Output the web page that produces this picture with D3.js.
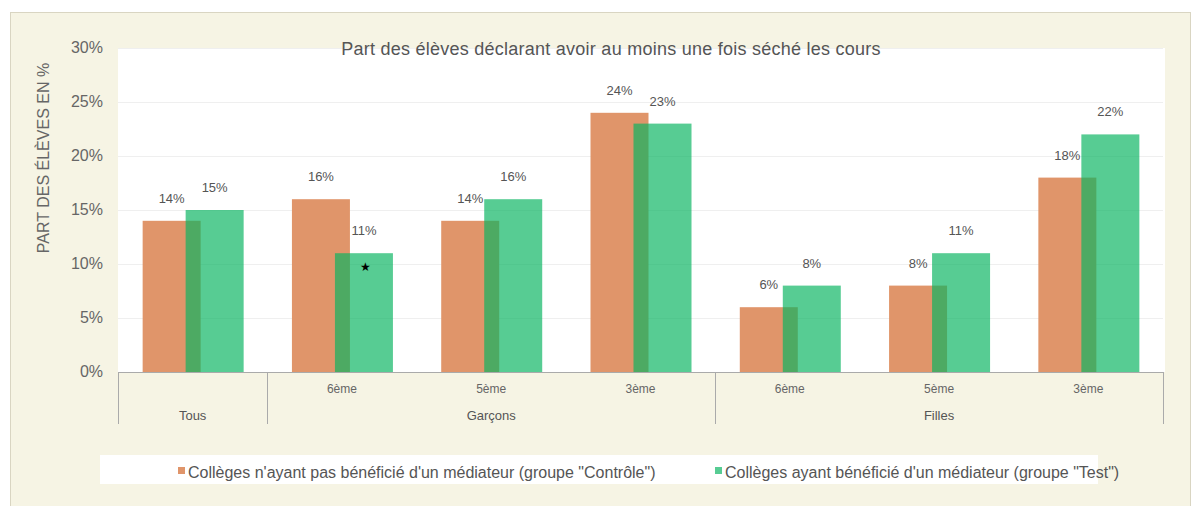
<!DOCTYPE html>
<html>
<head>
<meta charset="utf-8">
<script src="https://cdn.jsdelivr.net/npm/d3@7"></script>
<style>
  body { margin: 0; background: #fff; }
  svg { display: block; font-family: "Liberation Sans", Arial, sans-serif; }
</style>
</head>
<body>
<div id="chart"></div>
<script>
// data
const categories = ["Tous", "G6", "G5", "G3", "F6", "F5", "F3"];
const subLabels = ["", "6ème", "5ème", "3ème", "6ème", "5ème", "3ème"];
const groupOf = ["Tous", "Garçons", "Garçons", "Garçons", "Filles", "Filles", "Filles"];
const groups = ["Tous", "Garçons", "Filles"];
const controle = [14, 16, 14, 24, 6, 8, 18];
const testGroup = [15, 11, 16, 23, 8, 11, 22];
const significant = [false, true, false, false, false, false, false];
const yTicks = [0, 5, 10, 15, 20, 25, 30];
const seriesNames = [
  "Collèges n'ayant pas bénéficié d'un médiateur (groupe \"Contrôle\")",
  "Collèges ayant bénéficié d'un médiateur (groupe \"Test\")"
];

const W = 1199, H = 506;
const MARGIN = { TOP: 48, BOTTOM: 134, LEFT: 118, RIGHT: 36 };
const PW = W - MARGIN.LEFT - MARGIN.RIGHT;
const PH = H - MARGIN.TOP - MARGIN.BOTTOM;

const ORANGE = "#e0956a";
const GREEN = "rgb(8,180,96)";

const svg = d3.select("#chart").append("svg")
  .attr("width", W).attr("height", H);

// outer panel
svg.append("rect")
  .attr("x", 10.5).attr("y", 12.5)
  .attr("width", 1180).attr("height", 500)
  .attr("fill", "#f6f4e4").attr("stroke", "#d9d5c2");

const g = svg.append("g")
  .attr("transform", "translate(" + MARGIN.LEFT + "," + MARGIN.TOP + ")");

// plot background
g.append("rect").attr("width", PW + 2).attr("height", PH).attr("fill", "#fff");

const y = d3.scaleLinear().domain([0, 30]).range([PH, 0]);
const x = d3.scaleBand().domain(categories).range([0, PW]).padding(0);
const bw = 58;
const offset = d3.scaleOrdinal().domain(["controle", "test"]).range([-50, -7]);

// grid
g.selectAll(".grid").data(yTicks.slice(1)).enter().append("line")
  .attr("x1", 0).attr("x2", PW)
  .attr("y1", d => y(d) + 0.5).attr("y2", d => y(d) + 0.5)
  .attr("stroke", "#efefef");

// y axis labels
g.selectAll(".ytick").data(yTicks).enter().append("text")
  .attr("x", -15).attr("y", d => y(d) + 5)
  .attr("text-anchor", "end")
  .attr("font-size", 16).attr("fill", "#666")
  .text(d => d + "%");

// y title
svg.append("text")
  .attr("transform", "translate(49,158) rotate(-90)")
  .attr("text-anchor", "middle")
  .attr("font-size", 16).attr("fill", "#666")
  .text("PART DES ÉLÈVES EN %");

// chart title
svg.append("text")
  .attr("x", 611).attr("y", 55)
  .attr("text-anchor", "middle")
  .attr("font-size", 18).attr("letter-spacing", 0.25).attr("fill", "#555")
  .text("Part des élèves déclarant avoir au moins une fois séché les cours");

// bars
const cx = i => x(categories[i]) + x.bandwidth() / 2;

g.selectAll(".bar-c").data(controle).enter().append("rect")
  .attr("x", (d, i) => cx(i) + offset("controle"))
  .attr("y", d => y(d))
  .attr("width", bw)
  .attr("height", d => PH - y(d))
  .attr("fill", ORANGE);

g.selectAll(".bar-t").data(testGroup).enter().append("rect")
  .attr("x", (d, i) => cx(i) + offset("test"))
  .attr("y", d => y(d))
  .attr("width", bw)
  .attr("height", d => PH - y(d))
  .attr("fill", GREEN).attr("fill-opacity", 0.68);

// value labels
g.selectAll(".lab-c").data(controle).enter().append("text")
  .attr("x", (d, i) => cx(i) + offset("controle") + bw / 2)
  .attr("y", d => y(d) - 18)
  .attr("text-anchor", "middle")
  .attr("font-size", 13).attr("fill", "#555")
  .text(d => d + "%");

g.selectAll(".lab-t").data(testGroup).enter().append("text")
  .attr("x", (d, i) => cx(i) + offset("test") + bw / 2)
  .attr("y", d => y(d) - 18)
  .attr("text-anchor", "middle")
  .attr("font-size", 13).attr("fill", "#555")
  .text(d => d + "%");

// significance star
const starIdx = significant.map((s, i) => s ? i : -1).filter(i => i >= 0);
g.selectAll(".star").data(starIdx).enter().append("text")
  .attr("x", i => cx(i) + offset("test") + bw / 2 + 2)
  .attr("y", i => y(testGroup[i]) + 18)
  .attr("text-anchor", "middle")
  .attr("font-size", 12).attr("fill", "#000")
  .text("★");

// x axis
g.append("line")
  .attr("x1", 0).attr("x2", PW)
  .attr("y1", PH + 0.5).attr("y2", PH + 0.5)
  .attr("stroke", "#aaa");

g.selectAll(".sub").data(subLabels).enter().append("text")
  .attr("x", (d, i) => cx(i))
  .attr("y", PH + 21)
  .attr("text-anchor", "middle")
  .attr("font-size", 12).attr("fill", "#666")
  .text(d => d);

// group boundaries and labels
const groupSpan = groups.map(gr => {
  const idx = groupOf.map((d, i) => d === gr ? i : -1).filter(i => i >= 0);
  return { name: gr, x0: x(categories[idx[0]]), x1: x(categories[idx[idx.length - 1]]) + x.bandwidth() };
});

const bounds = [0].concat(groupSpan.map(d => d.x1));
g.selectAll(".bound").data(bounds).enter().append("line")
  .attr("x1", d => Math.round(d) + 0.5).attr("x2", d => Math.round(d) + 0.5)
  .attr("y1", PH).attr("y2", PH + 52)
  .attr("stroke", "#aaa");

g.selectAll(".grp").data(groupSpan).enter().append("text")
  .attr("x", d => (d.x0 + d.x1) / 2)
  .attr("y", PH + 48)
  .attr("text-anchor", "middle")
  .attr("font-size", 13).attr("fill", "#555")
  .text(d => d.name);

// legend
const legend = svg.append("g");
legend.append("rect")
  .attr("x", 100).attr("y", 455).attr("width", 998).attr("height", 29)
  .attr("fill", "#fff");

const legendX = [178, 715];
const legendColors = [ORANGE, "#57cc93"];
seriesNames.forEach((name, i) => {
  legend.append("rect")
    .attr("x", legendX[i]).attr("y", 467)
    .attr("width", 7).attr("height", 7)
    .attr("fill", legendColors[i]);
  legend.append("text")
    .attr("x", legendX[i] + 10).attr("y", 478)
    .attr("font-size", 16).attr("fill", "#555")
    .text(name);
});
</script>
</body>
</html>
